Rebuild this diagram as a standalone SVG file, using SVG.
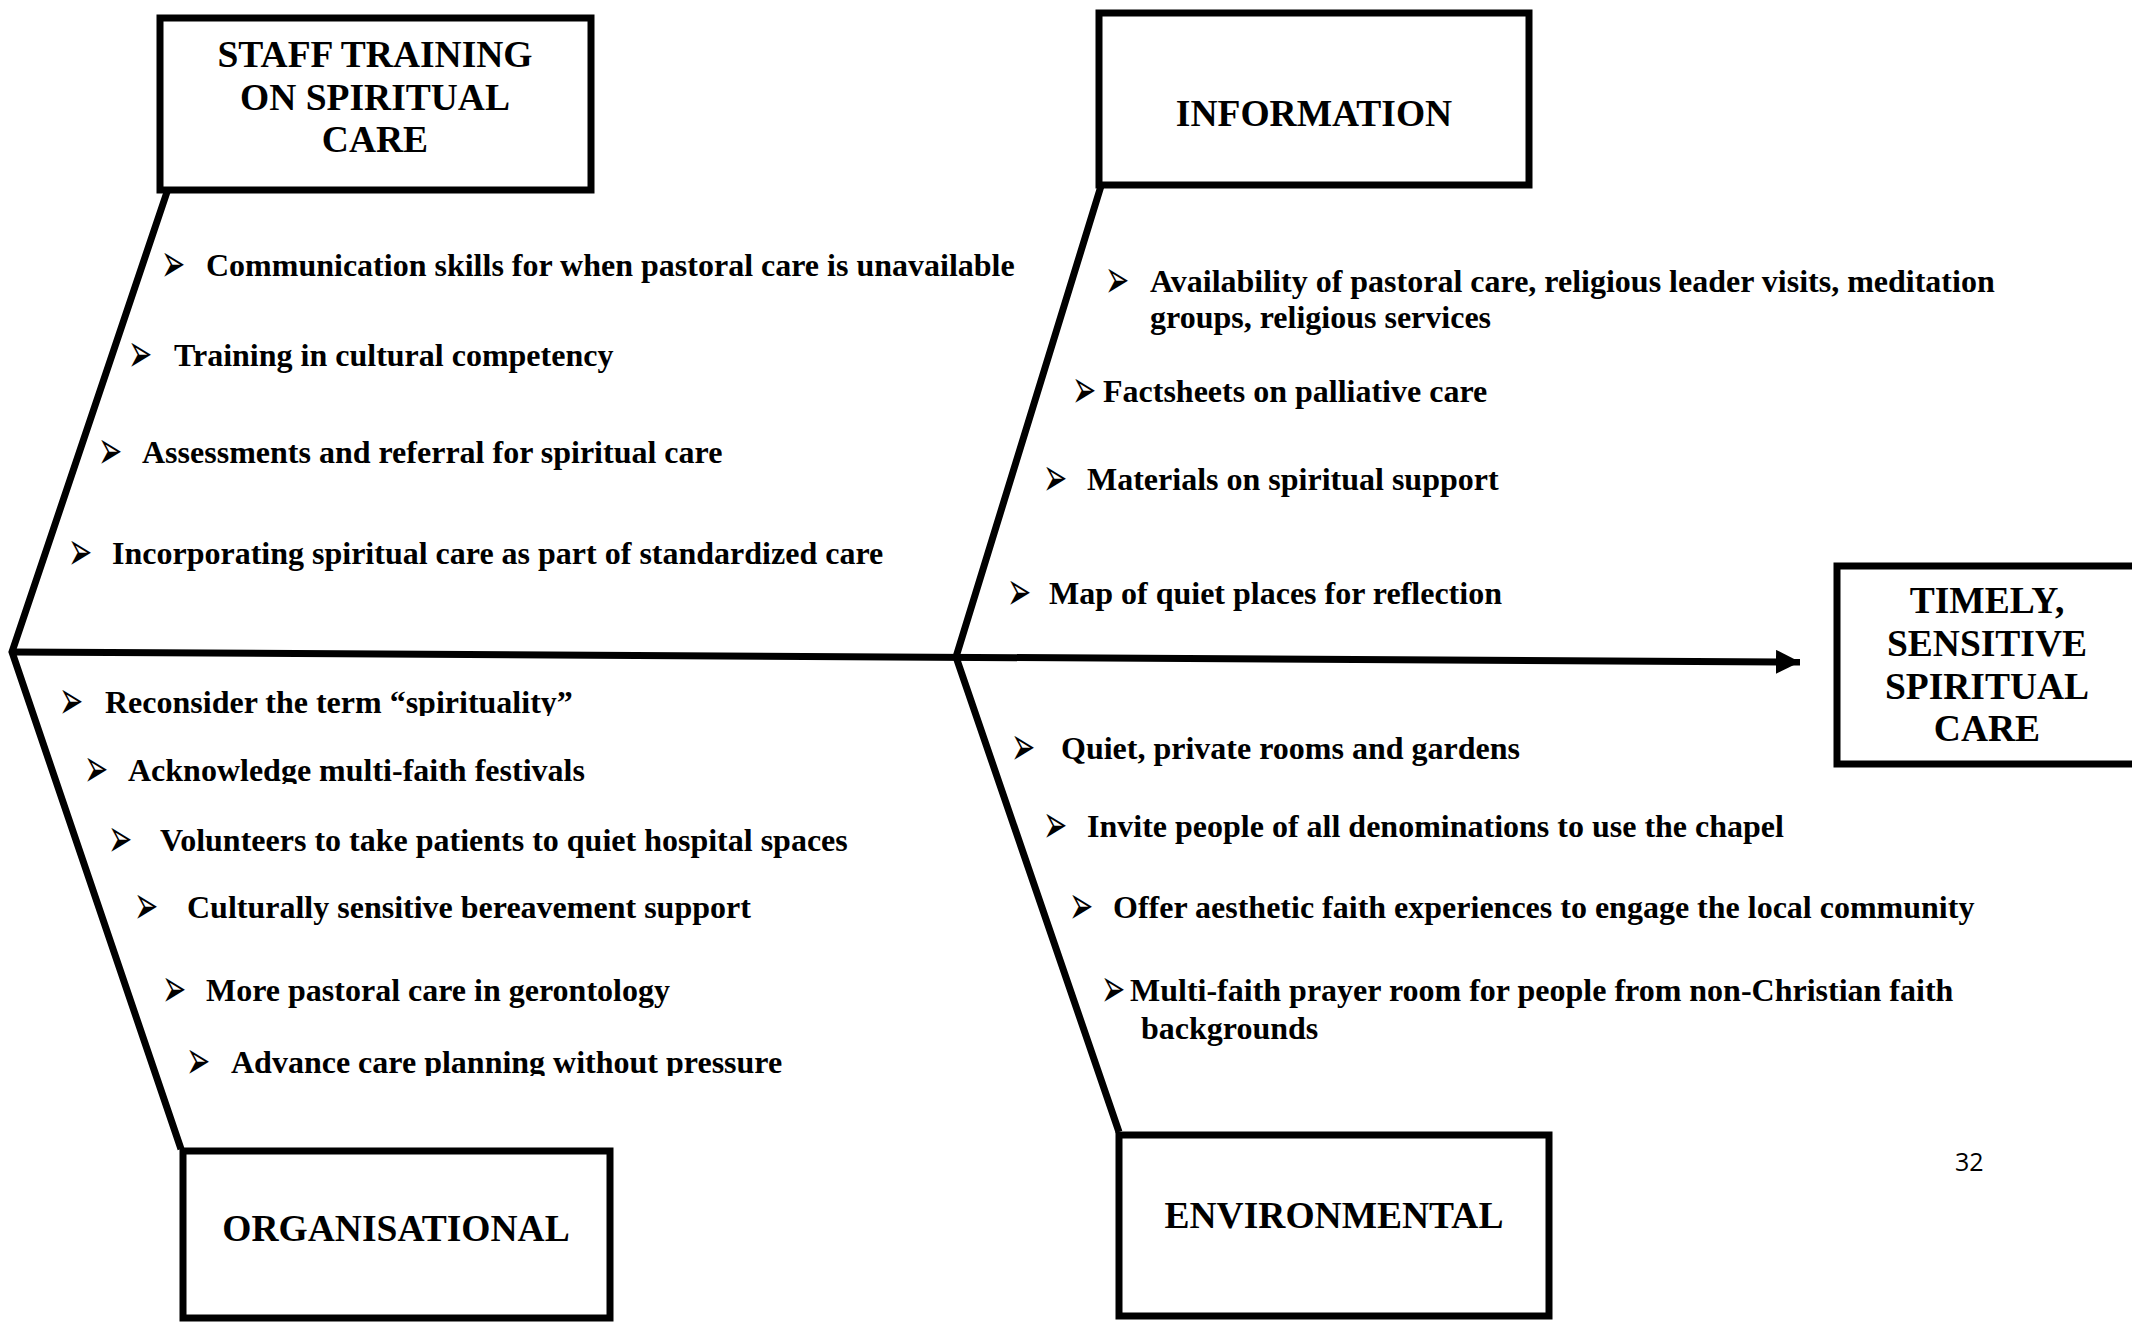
<svg xmlns="http://www.w3.org/2000/svg" width="2132" height="1323" viewBox="0 0 2132 1323">
<style>
.box{fill:#fff;stroke:#000;stroke-width:7}
.bone{fill:none;stroke:#000;stroke-width:7;stroke-linecap:butt}
.title{font-family:"Liberation Serif","Times New Roman",serif;font-weight:bold;font-size:37.5px;text-anchor:middle;fill:#000}
.item{font-family:"Liberation Serif","Times New Roman",serif;font-weight:bold;font-size:32px;fill:#000}
.bul{font-family:"DejaVu Sans",sans-serif;font-size:29px;fill:#000}
.pg{font-family:"Open Sans","Liberation Sans",sans-serif;font-size:25px;fill:#000}
</style>
<defs>
<marker id="arrow" markerUnits="userSpaceOnUse" markerWidth="26" markerHeight="24" refX="24" refY="12" orient="auto">
<path d="M0,0 L24,12 L0,24 Z" fill="#000"/>
</marker>
<text id="b" class="bul" transform="scale(1,1.9)">➢</text>
<clipPath id="c1"><rect x="0" y="600" width="1000" height="116"/></clipPath>
<clipPath id="c2"><rect x="0" y="740" width="1000" height="44"/></clipPath>
<clipPath id="c3"><rect x="0" y="1030" width="1000" height="46"/></clipPath>
</defs>
<rect width="2132" height="1323" fill="#fff"/>

<g id="connectors">
<line class="bone" x1="12" y1="652" x2="1800" y2="662" marker-end="url(#arrow)"/>
<polyline class="bone" points="167,192 12,652 181,1149"/>
<polyline class="bone" points="1101,186 956,657 1119,1132"/>
</g>

<g id="node-staff">
<rect class="box" x="160" y="18" width="431" height="172"/>
<text class="title" x="375" y="67">STAFF TRAINING</text>
<text class="title" x="375" y="109.5">ON SPIRITUAL</text>
<text class="title" x="375" y="152">CARE</text>
</g>

<g id="node-information">
<rect class="box" x="1099" y="13" width="430" height="172"/>
<text class="title" x="1314" y="126">INFORMATION</text>
</g>

<g id="node-outcome">
<rect class="box" x="1837" y="566" width="320" height="198"/>
<text class="title" x="1987" y="613">TIMELY,</text>
<text class="title" x="1987" y="656">SENSITIVE</text>
<text class="title" x="1987" y="698.5">SPIRITUAL</text>
<text class="title" x="1987" y="741">CARE</text>
</g>

<g id="node-organisational">
<rect class="box" x="183" y="1151" width="427" height="167"/>
<text class="title" x="396" y="1241">ORGANISATIONAL</text>
</g>

<g id="node-environmental">
<rect class="box" x="1119" y="1135" width="430" height="181"/>
<text class="title" x="1334" y="1228">ENVIRONMENTAL</text>
</g>

<g id="items-staff">
<use href="#b" x="161" y="282"/><text class="item" x="206" y="276">Communication skills for when pastoral care is unavailable</text>
<use href="#b" x="128" y="372"/><text class="item" x="174" y="366">Training in cultural competency</text>
<use href="#b" x="98" y="469"/><text class="item" x="142" y="463">Assessments and referral for spiritual care</text>
<use href="#b" x="68" y="570"/><text class="item" x="112" y="564">Incorporating spiritual care as part of standardized care</text>
</g>

<g id="items-information">
<use href="#b" x="1105" y="298"/><text class="item" x="1150" y="292">Availability of pastoral care, religious leader visits, meditation</text>
<text class="item" x="1150" y="328">groups, religious services</text>
<use href="#b" x="1072" y="408"/><text class="item" x="1103" y="402">Factsheets on palliative care</text>
<use href="#b" x="1043" y="496"/><text class="item" x="1087" y="490">Materials on spiritual support</text>
<use href="#b" x="1007" y="610"/><text class="item" x="1049" y="604">Map of quiet places for reflection</text>
</g>

<g id="items-organisational">
<g clip-path="url(#c1)"><use href="#b" x="59" y="719"/><text class="item" x="105" y="713">Reconsider the term “spirituality”</text></g>
<g clip-path="url(#c2)"><use href="#b" x="84" y="787"/><text class="item" x="128" y="781">Acknowledge multi-faith festivals</text></g>
<use href="#b" x="108" y="857"/><text class="item" x="160" y="851">Volunteers to take patients to quiet hospital spaces</text>
<use href="#b" x="134" y="924"/><text class="item" x="187" y="918">Culturally sensitive bereavement support</text>
<use href="#b" x="162" y="1007"/><text class="item" x="206" y="1001">More pastoral care in gerontology</text>
<g clip-path="url(#c3)"><use href="#b" x="186" y="1079"/><text class="item" x="231" y="1073">Advance care planning without pressure</text></g>
</g>

<g id="items-environmental">
<use href="#b" x="1011" y="765"/><text class="item" x="1061" y="759">Quiet, private rooms and gardens</text>
<use href="#b" x="1043" y="843"/><text class="item" x="1087" y="837">Invite people of all denominations to use the chapel</text>
<use href="#b" x="1069" y="924"/><text class="item" x="1113" y="918">Offer aesthetic faith experiences to engage the local community</text>
<use href="#b" x="1101" y="1007"/><text class="item" x="1130" y="1001">Multi-faith prayer room for people from non-Christian faith</text>
<text class="item" x="1141" y="1039">backgrounds</text>
</g>

<text class="pg" x="1955" y="1171">32</text>
</svg>
